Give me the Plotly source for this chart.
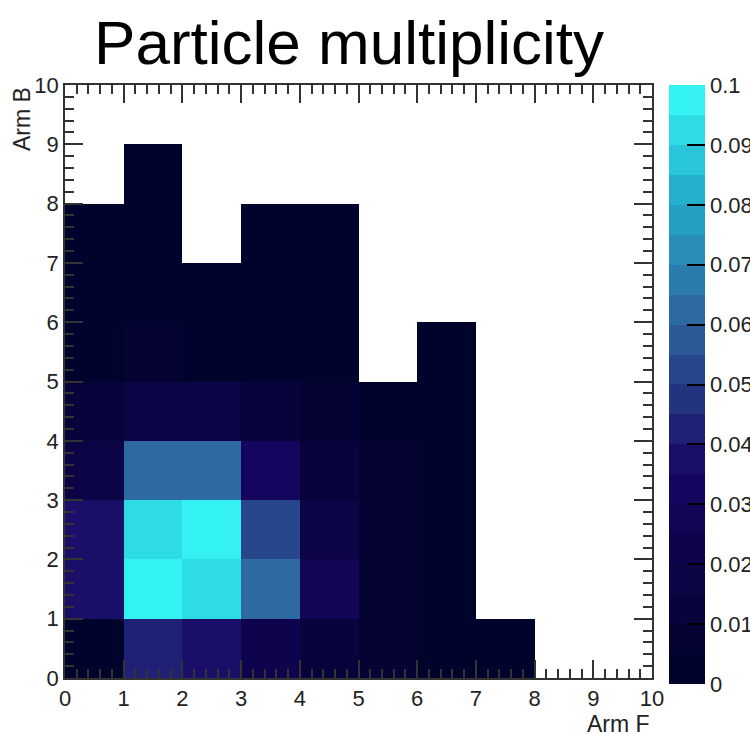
import numpy as np
import plotly.graph_objects as go

# ---- data ----
arm_f_edges = [0, 1, 2, 3, 4, 5, 6, 7, 8, 9, 10]
arm_b_edges = [0, 1, 2, 3, 4, 5, 6, 7, 8, 9, 10]
N = None
# rows: Arm B bin 0..9 ; columns: Arm F bin 0..9
row_b0 = [0.003, 0.043, 0.038, 0.022, 0.012, 0.007, 0.005, 0.004, N, N]
row_b1 = [0.038, 0.100, 0.092, 0.060, 0.025, 0.008, 0.005, N, N, N]
row_b2 = [0.037, 0.091, 0.100, 0.055, 0.020, 0.008, 0.005, N, N, N]
row_b3 = [0.018, 0.060, 0.060, 0.030, 0.013, 0.006, 0.005, N, N, N]
row_b4 = [0.012, 0.020, 0.020, 0.014, 0.007, 0.005, 0.005, N, N, N]
row_b5 = [0.005, 0.009, 0.005, 0.004, 0.004, N, 0.003, N, N, N]
row_b6 = [0.003, 0.004, 0.003, 0.003, 0.003, N, N, N, N, N]
row_b7 = [0.002, 0.003, N, 0.002, 0.002, N, N, N, N, N]
row_b8 = [N, 0.002, N, N, N, N, N, N, N, N]
row_b9 = [N, N, N, N, N, N, N, N, N, N]
z = [row_b0, row_b1, row_b2, row_b3, row_b4, row_b5, row_b6, row_b7, row_b8, row_b9]

tick_vals = [0, 1, 2, 3, 4, 5, 6, 7, 8, 9, 10]
cbar_vals = [0, 0.01, 0.02, 0.03, 0.04, 0.05, 0.06, 0.07, 0.08, 0.09, 0.1]
cbar_text = ["0", "0.01", "0.02", "0.03", "0.04", "0.05", "0.06", "0.07", "0.08", "0.09", "0.1"]

# ---- palette (deep sea like), 20 discrete levels ----
p_stops = [0.0, 0.34, 0.61, 0.84, 1.0]
p_r = [0, 23, 46, 35, 52]
p_g = [3, 5, 99, 175, 242]
p_b = [43, 99, 158, 205, 242]
nlev = 20
colorscale = []
for i in range(nlev):
    t = i / (nlev - 1)
    c = "rgb(%d,%d,%d)" % (round(np.interp(t, p_stops, p_r)),
                           round(np.interp(t, p_stops, p_g)),
                           round(np.interp(t, p_stops, p_b)))
    colorscale.append([i / nlev, c])
    colorscale.append([(i + 1) / nlev, c])

FONT = "Liberation Sans, Arial, Helvetica, sans-serif"
W, H = 750, 735
L, R, T, B = 65, 98, 85, 57
plot_h = H - T - B

fig = go.Figure()
fig.add_trace(go.Heatmap(
    z=z, x=arm_f_edges, y=arm_b_edges,
    zmin=0, zmax=0.1, colorscale=colorscale,
    hoverongaps=False,
    colorbar=dict(
        x=(669 - L) / (W - L - R), xanchor="left", xref="paper",
        y=1, yanchor="top", yref="paper",
        thickness=36, thicknessmode="pixels",
        len=plot_h + 6, lenmode="pixels",
        ypad=0, xpad=0,
        outlinewidth=0,
        tickmode="array", tickvals=cbar_vals, ticktext=cbar_text,
        ticks="inside", ticklen=18, tickwidth=1.5, tickcolor="black",
        tickfont=dict(family=FONT, size=22, color="#222"),
    ),
))

axis_common = dict(
    range=[0, 10], tickmode="array", tickvals=tick_vals,
    ticks="inside", ticklen=18, tickwidth=1.5, tickcolor="#333",
    mirror="allticks", showline=True, linecolor="#333", linewidth=1.5,
    showgrid=False, zeroline=False,
    tickfont=dict(family=FONT, size=22, color="#222"),
    minor=dict(dtick=0.2, ticks="inside", ticklen=9, tickwidth=1.5,
               tickcolor="#333", showgrid=False),
)
fig.update_xaxes(**axis_common)
fig.update_yaxes(**axis_common)

fig.update_layout(
    width=W, height=H,
    margin=dict(l=L, r=R, t=T, b=B, autoexpand=False),
    paper_bgcolor="white", plot_bgcolor="white",
    title=dict(text="Particle multiplicity", x=349 / W, xanchor="center",
               xref="container", y=1 - 42 / H, yanchor="middle", yref="container",
               font=dict(family=FONT, size=62, color="black")),
    annotations=[
        dict(text="Arm F", x=10, xref="x", xanchor="right",
             y=-0.052, yref="paper", yanchor="top", showarrow=False,
             font=dict(family=FONT, size=23, color="#222")),
        dict(text="Arm B", x=-43 / (W - L - R), xref="paper", xanchor="center",
             y=1, yref="paper", yanchor="top", textangle=-90, showarrow=False,
             font=dict(family=FONT, size=23, color="#222")),
    ],
)

fig.write_html("out.html")
